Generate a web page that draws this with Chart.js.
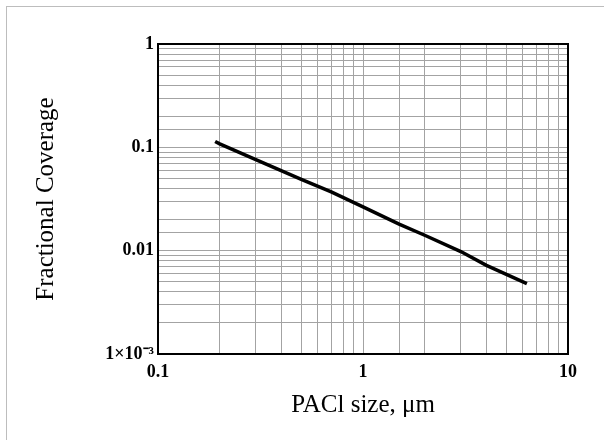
<!DOCTYPE html>
<html>
<head>
<meta charset="utf-8">
<script src="https://cdn.jsdelivr.net/npm/chart.js@4"></script>
<style>
  html, body { margin: 0; padding: 0; background: #fff; }
  #wrap { position: relative; width: 604px; height: 440px; }
  #frame {
    position: absolute; left: 6px; top: 6px; width: 598px; height: 434px;
    border-top: 1px solid #bdbdbd; border-left: 1px solid #bdbdbd;
    pointer-events: none;
  }
</style>
</head>
<body>
<div id="wrap">
  <canvas id="grafico" width="604" height="440"></canvas>
  <div id="frame"></div>
</div>
<script>
// Datos (escala log-log)
const tamanos = [0.19, 0.2, 0.3, 0.5, 0.7, 1, 1.5, 2, 3, 4, 6.3];
const cobertura = [0.114, 0.108, 0.076, 0.049, 0.037, 0.0265, 0.0181, 0.0141, 0.0098, 0.0072, 0.0048];

const etiquetasX = { 0.1: '0.1', 1: '1', 10: '10' };
const etiquetasY = { 1: '1', 0.1: '0.1', 0.01: '0.01', 0.001: '1×10⁻³' };

const fuente = '"Liberation Serif", "Times New Roman", serif';
const colorGrid = '#a3a3a3';

const etiqueta = (mapa, v) => {
    for (const k in mapa) {
        if (Math.abs(Math.log10(v) - Math.log10(+k)) < 1e-6) return mapa[k];
    }
    return '';
};

new Chart(document.getElementById('grafico').getContext('2d'), {
    type: 'line',
    data: {
        datasets: [{
            data: tamanos.map((x, i) => ({ x: x, y: cobertura[i] })),
            borderColor: '#000',
            borderWidth: 3.5,
            pointRadius: 0,
            tension: 0,
            fill: false
        }]
    },
    options: {
        responsive: false,
        animation: false,
        layout: { padding: { left: 0, top: 44, right: 36, bottom: 0 } },
        plugins: { legend: { display: false }, tooltip: { enabled: false } },
        scales: {
            x: {
                type: 'logarithmic',
                min: 0.1,
                max: 10,
                afterFit: (s) => { s.height = 86; },
                border: { color: '#000', width: 2 },
                grid: { color: colorGrid, drawTicks: false },
                ticks: {
                    autoSkip: false,
                    maxRotation: 0,
                    padding: 8,
                    color: '#000',
                    font: { family: fuente, size: 18, weight: 'bold' },
                    callback: (v) => etiqueta(etiquetasX, v)
                },
                title: {
                    display: true,
                    text: 'PACl size, μm',
                    color: '#000',
                    font: { family: fuente, size: 25 },
                    padding: { top: 0, bottom: 20 }
                }
            },
            y: {
                type: 'logarithmic',
                min: 0.001,
                max: 1,
                afterFit: (s) => { s.width = 158; },
                border: { color: '#000', width: 2 },
                grid: { color: colorGrid, drawTicks: false },
                ticks: {
                    autoSkip: false,
                    padding: 4,
                    color: '#000',
                    font: { family: fuente, size: 18, weight: 'bold' },
                    callback: (v) => etiqueta(etiquetasY, v)
                },
                title: {
                    display: true,
                    text: 'Fractional Coverage',
                    color: '#000',
                    font: { family: fuente, size: 25 },
                    padding: { top: 31, bottom: 0 }
                }
            }
        }
    },
    plugins: [{
        // marco negro completo del área de trazado
        id: 'marco',
        afterDraw(chart) {
            const { ctx, chartArea: a } = chart;
            ctx.save();
            ctx.strokeStyle = '#000';
            ctx.lineWidth = 2;
            ctx.strokeRect(a.left, a.top, a.right - a.left, a.bottom - a.top);
            ctx.restore();
        }
    }]
});
</script>
</body>
</html>
